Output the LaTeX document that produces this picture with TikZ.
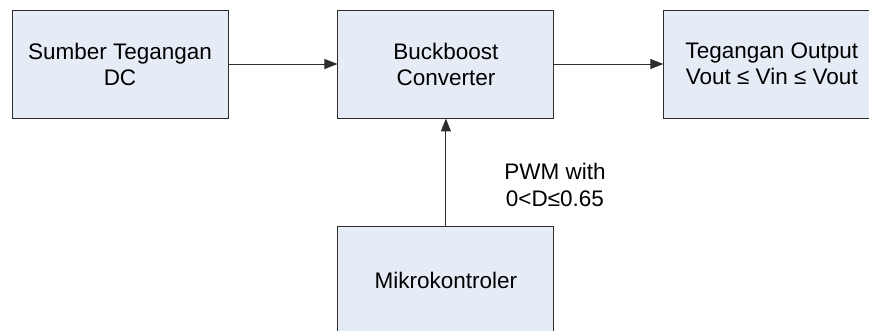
\documentclass[tikz,border=0pt]{standalone}
\usepackage{fontspec}
\setmainfont{Liberation Sans}
\usetikzlibrary{positioning,arrows.meta}
\definecolor{blokisi}{RGB}{229,236,245}
\definecolor{garis}{RGB}{45,45,45}
\begin{document}
\begin{tikzpicture}[x=1pt,y=1pt,>={Triangle[length=13pt,width=10pt]},
	blok/.style={draw=garis,fill=blokisi,line width=0.9pt,minimum width=216pt,minimum height=108pt,
		align=center,inner sep=0pt,font=\fontsize{22.5}{26}\selectfont},
	panah/.style={->,draw=garis,line width=0.9pt}]
	\useasboundingbox (0,0) rectangle (869,-331);
	\clip (0,0) rectangle (869,-331);
	% blok utama
	\node[blok] (sumber) at (120,-64) {Sumber Tegangan\\DC};
	\node[blok,right=109pt of sumber] (buck) {Buckboost\\Converter};
	\node[blok,right=109pt of buck] (keluaran) {Tegangan Output\\Vout ≤ Vin ≤ Vout};
	\node[blok,below=108pt of buck] (mikro) {Mikrokontroler};
	% panah
	\draw[panah] (sumber) -- (buck);
	\draw[panah] (buck) -- (keluaran);
	\draw[panah] (mikro) -- node[pos=0.384,right=58pt,align=center,inner sep=0pt,
		font=\fontsize{22.5}{26.5}\selectfont] (pwm) {PWM with\\0<D≤0.65} (buck);
\end{tikzpicture}
\end{document}
